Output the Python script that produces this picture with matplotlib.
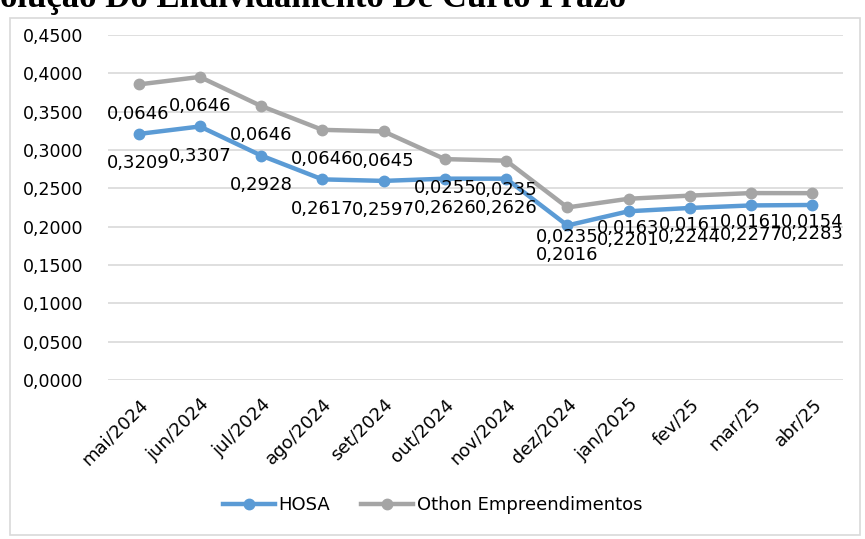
import numpy as np
import matplotlib
matplotlib.use("Agg")
import matplotlib.pyplot as plt
from matplotlib.patches import Rectangle
from matplotlib.ticker import FuncFormatter

months = ["mai/2024", "jun/2024", "jul/2024", "ago/2024", "set/2024", "out/2024",
          "nov/2024", "dez/2024", "jan/2025", "fev/25", "mar/25", "abr/25"]
hosa = [0.3209, 0.3307, 0.2928, 0.2617, 0.2597, 0.2626,
        0.2626, 0.2016, 0.2201, 0.2244, 0.2277, 0.2283]
othon = [0.0646, 0.0646, 0.0646, 0.0646, 0.0645, 0.0255,
         0.0235, 0.0235, 0.0163, 0.0161, 0.0161, 0.0154]


def br(v):
    return f"{v:.4f}".replace(".", ",")


plt.rcParams["font.family"] = ["DejaVu Sans"]
blue, grey, grid = "#5B9BD5", "#A5A5A5", "#D9D9D9"

fig = plt.figure(figsize=(8.65, 5.39), dpi=100)
ax = fig.add_axes([108 / 865, 1 - 380 / 539, (843 - 108) / 865, (380 - 35) / 539])

# chart border
fig.patches.append(Rectangle((10 / 865, 1 - 535 / 539), 850 / 865, 517 / 539,
                             transform=fig.transFigure, fill=False,
                             edgecolor=grid, linewidth=1.2))

fig.text(0.0, 1 - 7 / 539, "olução Do Endividamento De Curto Prazo",
         family="Liberation Serif", weight="bold", fontsize=25, va="baseline", ha="left")

x = np.arange(len(months))
top = np.array(hosa) + np.array(othon)   # stacked line, like the Excel chart

ax.plot(x, hosa, color=blue, lw=3.2, marker="o", ms=7.5, label="HOSA", zorder=3)
ax.plot(x, top, color=grey, lw=3.2, marker="o", ms=7.5,
        label="Othon Empreendimentos", zorder=3)

for xi, h, o, t in zip(x, hosa, othon, top):
    ax.annotate(br(h), (xi, h), xytext=(0, -21), textcoords="offset points",
                ha="center", va="center", fontsize=13, color="#000000")
    ax.annotate(br(o), (xi, t), xytext=(0, -21), textcoords="offset points",
                ha="center", va="center", fontsize=13, color="#000000")

ax.set_xlim(-0.5, len(months) - 0.5)
ax.set_ylim(0, 0.45)
ax.set_yticks(np.arange(0, 0.4501, 0.05))
ax.yaxis.set_major_formatter(FuncFormatter(lambda v, p: br(v)))
ax.set_xticks(x)
ax.set_xticklabels(months, rotation=45, ha="right", rotation_mode="anchor")
ax.tick_params(axis="y", length=0, pad=18, labelsize=12.5)
ax.tick_params(axis="x", length=0, pad=11, labelsize=13)
ax.grid(axis="y", color=grid, lw=1.2)
ax.set_axisbelow(True)
for s in ax.spines.values():
    s.set_visible(False)

fig.legend(loc="center", bbox_to_anchor=(0.5, 1 - 505 / 539), ncol=2, frameon=False,
           fontsize=13, handlelength=2.9, handletextpad=0.2, columnspacing=1.7)

fig.savefig("out.png", dpi=100)
